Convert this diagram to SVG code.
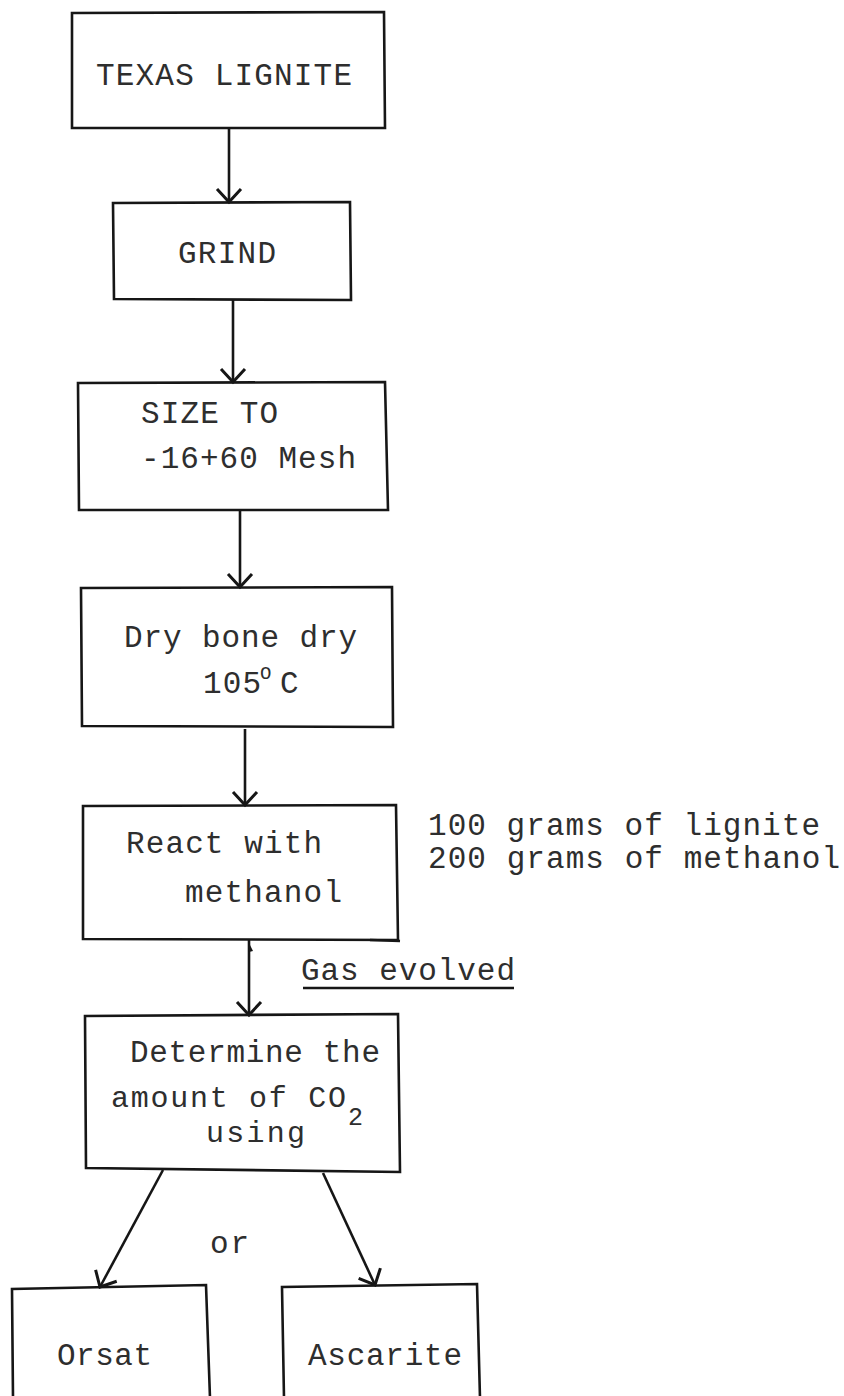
<svg xmlns="http://www.w3.org/2000/svg" width="844" height="1396" viewBox="0 0 844 1396">
<style>
.box{fill:none;stroke:#161616;stroke-width:2.6;stroke-linejoin:miter}
.t{font-family:"Liberation Mono","DejaVu Sans Mono",monospace;font-size:31px;fill:#2e2e2e}
.c{fill:none;stroke:#161616;stroke-width:2.6}
</style>
<defs>
<marker id="ah" markerUnits="userSpaceOnUse" markerWidth="32" markerHeight="32" viewBox="-16 -16 20 32" refX="0" refY="0" orient="auto">
<path d="M-13,-12 L0,0 L-13,12" fill="none" stroke="#161616" stroke-width="3"/>
</marker>
</defs>
<rect width="844" height="1396" fill="#ffffff"/>

<g id="n1">
<path class="box" d="M72,13 L384,12 L385,128 L72,128 Z"/>
<text class="t" x="96" y="85" textLength="256" lengthAdjust="spacing">TEXAS LIGNITE</text>
</g>
<g id="n2">
<path class="box" d="M113,203 L350,202 L351,300 L114,299 Z"/>
<text class="t" x="178" y="263" textLength="98" lengthAdjust="spacing">GRIND</text>
</g>
<g id="n3">
<path class="box" d="M78,383 L385,382 L388,510 L79,510 Z"/>
<text class="t" x="141" y="423" textLength="137" lengthAdjust="spacing">SIZE TO</text>
<text class="t" x="141" y="468" textLength="215" lengthAdjust="spacing">-16+60 Mesh</text>
</g>
<g id="n4">
<path class="box" d="M81,588 L392,587 L393,727 L82,726 Z"/>
<text class="t" x="124" y="647" textLength="233" lengthAdjust="spacing">Dry bone dry</text>
<text class="t" x="203" y="693" textLength="58" lengthAdjust="spacing">105</text>
<text class="t" x="260" y="679" style="font-size:19px">O</text>
<text class="t" x="280" y="693">C</text>
</g>
<g id="n5">
<path class="box" d="M83,806 L396,805 L398,940 L83,939 Z"/>
<path class="c" d="M370,940 L400,941"/>
<text class="t" x="126" y="853" textLength="196" lengthAdjust="spacing">React with</text>
<text class="t" x="185" y="902" textLength="157" lengthAdjust="spacing">methanol</text>
</g>
<g id="n5note">
<text class="t" x="428" y="835" textLength="392" lengthAdjust="spacing">100 grams of lignite</text>
<text class="t" x="428" y="868" textLength="412" lengthAdjust="spacing">200 grams of methanol</text>
</g>
<g id="gas">
<text class="t" x="301" y="980" textLength="214" lengthAdjust="spacing">Gas evolved</text>
<path class="c" d="M303,988 L514,988"/>
</g>
<g id="n6">
<path class="box" d="M85,1016 L398,1014 L400,1172 L86,1168 Z"/>
<text class="t" x="130" y="1062" textLength="250" lengthAdjust="spacing">Determine the</text>
<text class="t" x="111" y="1107" textLength="235" lengthAdjust="spacing" style="font-size:30px">amount of CO</text>
<text class="t" x="348" y="1125" style="font-size:25px">2</text>
<text class="t" x="206" y="1142" textLength="99" lengthAdjust="spacing" style="font-size:30px">using</text>
</g>
<g id="or">
<text class="t" x="210" y="1253" textLength="39" lengthAdjust="spacing">or</text>
</g>
<g id="n7">
<path class="box" d="M13,1398 L12,1289 L206,1285 L210,1398"/>
<text class="t" x="57" y="1365" textLength="95" lengthAdjust="spacing">Orsat</text>
</g>
<g id="n8">
<path class="box" d="M284,1398 L282,1287 L477,1284 L480,1398"/>
<text class="t" x="308" y="1365" textLength="154" lengthAdjust="spacing">Ascarite</text>
</g>

<g id="connectors">
<path class="c" d="M229,128 L229,202" marker-end="url(#ah)"/>
<path class="c" d="M233,300 L233,382" marker-end="url(#ah)"/>
<path class="c" d="M240,510 L240,587" marker-end="url(#ah)"/>
<path class="c" d="M245,729 L245,805" marker-end="url(#ah)"/>
<path class="c" d="M249,940 L249,1015" marker-end="url(#ah)"/>
<path d="M248,941 L253,951 L249,952 Z" fill="#161616"/>
<path class="c" d="M163,1170 L100,1287" marker-end="url(#ah)"/>
<path class="c" d="M323,1173 L375,1285" marker-end="url(#ah)"/>
</g>
</svg>
